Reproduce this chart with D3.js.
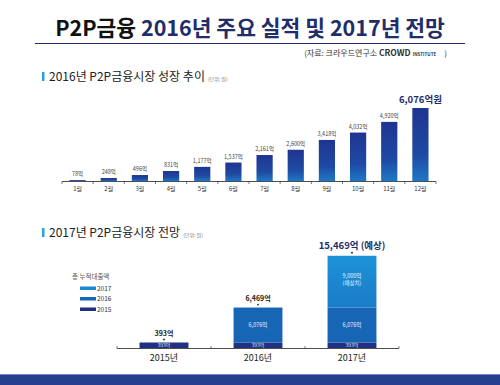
<!DOCTYPE html>
<html>
<head>
<meta charset="utf-8">
<script src="https://cdn.jsdelivr.net/npm/d3@7"></script>
<style>
  body { margin: 0; background: #fff; }
  svg { display: block; font-family: "Noto Sans CJK KR", "Noto Sans", sans-serif; }
</style>
</head>
<body>
<svg id="chart" width="500" height="385"></svg>
<script>
// monthly cumulative loans 2016 (억원)
var months = ["1월", "2월", "3월", "4월", "5월", "6월", "7월", "8월", "9월", "10월", "11월", "12월"];
var monthValues = [78, 248, 496, 831, 1177, 1537, 2161, 2600, 3418, 4032, 4920, 6076];

// yearly outlook, stacked
var years = ["2015년", "2016년", "2017년"];
var part2015 = [393, 393, 393];
var part2016 = [0, 6076, 6076];
var part2017 = [0, 0, 9000];
var totals = [393, 6469, 15469];
var totalLabels = ["393억", "6,469억", "15,469억 (예상)"];
var legendKeys = ["2017", "2016", "2015"];

var navy = "#1f2d6b";
var segColors = { "2015": "#1f3180", "2016": "#1766b6", "2017": "#1b89d2" };

var svg = d3.select("#chart");
var fmt = d3.format(",");

var defs = svg.append("defs");
var grad = defs.append("linearGradient")
  .attr("id", "barGrad")
  .attr("x1", 0).attr("y1", 0).attr("x2", 0).attr("y2", 1);
grad.append("stop").attr("offset", "0%").attr("stop-color", "#1f3590");
grad.append("stop").attr("offset", "65%").attr("stop-color", "#1e4aa4");
grad.append("stop").attr("offset", "100%").attr("stop-color", "#1d78c8");

var grad17 = defs.append("linearGradient")
  .attr("id", "grad17")
  .attr("x1", 0).attr("y1", 0).attr("x2", 0).attr("y2", 1);
grad17.append("stop").attr("offset", "0%").attr("stop-color", "#1d92d8");
grad17.append("stop").attr("offset", "100%").attr("stop-color", "#1a7cc8");

// ---- header
var title = svg.append("text")
  .attr("x", 250).attr("y", 36)
  .attr("text-anchor", "middle")
  .style("font-size", "21.5px").style("font-weight", "bold");
title.append("tspan").attr("fill", "#111").text("P2P금융 ");
title.append("tspan").attr("fill", navy).text("2016년 주요 실적 및 2017년 전망");

svg.append("line")
  .attr("x1", 35).attr("x2", 465).attr("y1", 43.5).attr("y2", 43.5)
  .style("stroke", navy).style("stroke-width", 1);

var src = svg.append("text")
  .attr("x", 447).attr("y", 56)
  .attr("text-anchor", "end")
  .style("font-size", "8px").attr("fill", "#333");
src.append("tspan").text("(자료: 크라우드연구소 ");
src.append("tspan").style("font-weight", "bold").style("font-size", "8.5px").text("CROWD");
src.append("tspan").style("font-size", "4.5px").style("font-weight", "bold").attr("dx", 2).text("INSTITUTE");
src.append("tspan").attr("dx", 8).text(")");

function sectionTitle(y, label, unit) {
  svg.append("rect")
    .attr("x", 42).attr("y", y - 9).attr("width", 2.5).attr("height", 9)
    .attr("fill", "#2aa3dc");
  var t = svg.append("text")
    .attr("x", 49).attr("y", y)
    .style("font-size", "12px").attr("fill", "#222");
  t.append("tspan").text(label);
  t.append("tspan").attr("dx", 3).style("font-size", "5px").attr("fill", "#777").text(unit);
}

sectionTitle(81, "2016년 P2P금융시장 성장 추이", "(단위: 원)");
sectionTitle(237, "2017년 P2P금융시장 전망", "(단위: 원)");

// ---- chart 1: monthly bars
var x1 = d3.scaleBand().domain(months).range([62, 436]).paddingInner(0.48).paddingOuter(0.24);
var y1 = d3.scaleLinear().domain([0, 6076]).range([181, 108]);

var g1 = svg.append("g");

g1.selectAll(".bar").data(monthValues)
  .enter().append("rect")
  .attr("class", "bar")
  .attr("x", function(d, i) { return x1(months[i]); })
  .attr("width", x1.bandwidth())
  .attr("y", function(d) { return y1(d); })
  .attr("height", function(d) { return y1(0) - y1(d); })
  .attr("fill", "url(#barGrad)");

g1.selectAll(".val").data(monthValues)
  .enter().append("text")
  .attr("class", "val")
  .attr("x", function(d, i) { return x1(months[i]) + x1.bandwidth() / 2; })
  .attr("y", function(d, i) { return y1(d) - (i === months.length - 1 ? 5 : 4); })
  .attr("text-anchor", "middle")
  .style("font-size", function(d, i) { return i === months.length - 1 ? "9.5px" : "5.5px"; })
  .style("font-weight", function(d, i) { return i === months.length - 1 ? "bold" : "normal"; })
  .attr("fill", function(d, i) { return i === months.length - 1 ? navy : "#444"; })
  .text(function(d, i) { return i === months.length - 1 ? fmt(d) + "억원" : fmt(d) + "억"; });

// axis with ticks between bands
g1.append("line")
  .attr("x1", 62).attr("x2", 436).attr("y1", 181.5).attr("y2", 181.5)
  .style("stroke", "#222").style("stroke-width", 0.8);
g1.selectAll(".tk").data(d3.range(months.length + 1))
  .enter().append("line")
  .attr("class", "tk")
  .attr("x1", function(i) { return 62 + i * x1.step(); })
  .attr("x2", function(i) { return 62 + i * x1.step(); })
  .attr("y1", 181.5).attr("y2", 184)
  .style("stroke", "#222").style("stroke-width", 0.6);

g1.selectAll(".mon").data(months)
  .enter().append("text")
  .attr("class", "mon")
  .attr("x", function(d) { return x1(d) + x1.bandwidth() / 2; })
  .attr("y", 191)
  .attr("text-anchor", "middle")
  .style("font-size", "6px").attr("fill", "#333")
  .text(function(d) { return d; });

// ---- chart 2: stacked outlook
var x2 = d3.scaleBand().domain(years).range([117, 399]).paddingInner(0.48).paddingOuter(0.24);
var h2 = d3.scaleLinear().domain([0, 15469]).range([0, 89]);
var base2 = 348;

var g2 = svg.append("g");

years.forEach(function(yr, i) {
  var bx = x2(yr), bw = x2.bandwidth();
  // bottom segment kept visible at a minimum height
  var hA = Math.max(h2(part2015[i]), 5.5);
  var hB = h2(part2016[i]);
  var hC = h2(part2017[i]);
  var top = base2 - hA - hB - hC;

  g2.append("rect").attr("x", bx).attr("width", bw)
    .attr("y", base2 - hA).attr("height", hA).attr("fill", segColors["2015"]);
  g2.append("text").attr("x", bx + bw / 2).attr("y", base2 - 1.3)
    .attr("text-anchor", "middle").style("font-size", "5px").attr("fill", "#dfe6ff")
    .text(fmt(part2015[i]) + "억");

  if (hB > 0) {
    g2.append("rect").attr("x", bx).attr("width", bw)
      .attr("y", base2 - hA - hB).attr("height", hB).attr("fill", segColors["2016"]);
    g2.append("text").attr("x", bx + bw / 2).attr("y", base2 - hA - hB / 2 + 2)
      .attr("text-anchor", "middle").style("font-size", "5.5px").attr("fill", "#e6eeff")
      .text(fmt(part2016[i]) + "억");
  }
  if (hC > 0) {
    g2.append("rect").attr("x", bx).attr("width", bw)
      .attr("y", top).attr("height", hC).attr("fill", "url(#grad17)");
    g2.append("text").attr("x", bx + bw / 2).attr("y", top + hC / 2 - 4)
      .attr("text-anchor", "middle").style("font-size", "5.5px").attr("fill", "#e6f2ff")
      .text(fmt(part2017[i]) + "억");
    g2.append("text").attr("x", bx + bw / 2).attr("y", top + hC / 2 + 3.5)
      .attr("text-anchor", "middle").style("font-size", "5.5px").attr("fill", "#e6f2ff")
      .text("(예상치)");
  }

  g2.append("circle").attr("cx", bx + bw / 2).attr("cy", top - 3).attr("r", 0.9).attr("fill", "#222");
  g2.append("text").attr("x", bx + bw / 2).attr("y", top - 6.5)
    .attr("text-anchor", "middle")
    .style("font-size", i === 2 ? "9.5px" : "7px").style("font-weight", "bold")
    .attr("fill", i === 2 ? navy : "#222")
    .text(totalLabels[i]);

  g2.append("text").attr("x", bx + bw / 2).attr("y", 361)
    .attr("text-anchor", "middle").style("font-size", "9px").attr("fill", "#222")
    .text(yr);
});

g2.append("line")
  .attr("x1", 117).attr("x2", 399).attr("y1", base2 + 0.5).attr("y2", base2 + 0.5)
  .style("stroke", "#222").style("stroke-width", 0.8);
g2.selectAll(".tk2").data(d3.range(years.length + 1))
  .enter().append("line")
  .attr("x1", function(i) { return 117 + i * x2.step(); })
  .attr("x2", function(i) { return 117 + i * x2.step(); })
  .attr("y1", base2 + 0.5).attr("y2", base2 - 2)
  .style("stroke", "#222").style("stroke-width", 0.6);

// legend
var lg = svg.append("g");
lg.append("text").attr("x", 72).attr("y", 279)
  .style("font-size", "6.5px").attr("fill", "#555").text("총 누적대출액");
lg.selectAll(".lk").data(legendKeys)
  .enter().append("rect")
  .attr("x", 80).attr("y", function(d, i) { return 286.5 + i * 10.5; })
  .attr("width", 16).attr("height", 3.5)
  .attr("fill", function(d) { return segColors[d]; });
lg.selectAll(".lt").data(legendKeys)
  .enter().append("text")
  .attr("x", 97).attr("y", function(d, i) { return 290.8 + i * 10.5; })
  .style("font-size", "6.5px").attr("fill", "#333")
  .text(function(d) { return d; });

// bottom band
svg.append("rect").attr("x", 0).attr("y", 375).attr("width", 500).attr("height", 10).attr("fill", "#24408e");
svg.append("rect").attr("x", 0).attr("y", 374).attr("width", 500).attr("height", 1).attr("fill", "#6f8cc7");
</script>
</body>
</html>
